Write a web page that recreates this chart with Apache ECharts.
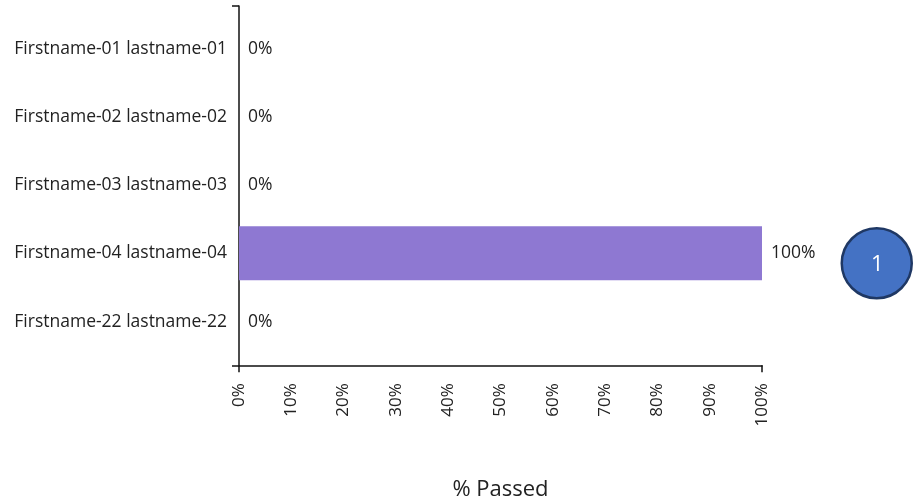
<!DOCTYPE html>
<html>
<head>
<meta charset="utf-8">
<script src="https://cdn.jsdelivr.net/npm/echarts@6/dist/echarts.min.js"></script>
<style>
html,body{margin:0;padding:0;background:#fff;}
#chart{width:913px;height:502px;}
</style>
</head>
<body>
<div id="chart"></div>
<script>
var categories = ['Firstname-01 lastname-01','Firstname-02 lastname-02','Firstname-03 lastname-03','Firstname-04 lastname-04','Firstname-22 lastname-22'];
var passed = [0, 0, 0, 100, 0];
var xTicks = [0, 10, 20, 30, 40, 50, 60, 70, 80, 90, 100];
var badgeText = '1';

var FONT = 'Open Sans';
var chart = echarts.init(document.getElementById('chart'), null, {renderer: 'canvas'});
chart.setOption({
  animation: false,
  backgroundColor: '#ffffff',
  grid: [
    {left: 239, right: 151, top: 14.4, height: 341.3, containLabel: false, outerBoundsMode: 'none'},
    {left: 239, right: 151, top: 6, height: 359.3, containLabel: false, outerBoundsMode: 'none'}
  ],
  xAxis: [{
    type: 'value', gridIndex: 0, min: 0, max: 100, interval: 10, offset: 9.6,
    name: '% Passed', nameLocation: 'middle', nameGap: 113,
    nameTextStyle: {fontFamily: FONT, fontSize: 22, color: '#222'},
    axisLine: {show: true, lineStyle: {color: '#111', width: 1.5}},
    axisTick: {show: true, customValues: [0, 100], length: 7, lineStyle: {color: '#111', width: 1.5}},
    splitLine: {show: false},
    axisLabel: {
      rotate: 90, margin: 18, fontFamily: FONT, fontSize: 17, color: '#222',
      customValues: xTicks,
      formatter: function (v) { return v + '%'; }
    }
  }, {
    type: 'value', gridIndex: 1, min: 0, max: 1, show: false
  }],
  yAxis: [{
    type: 'category', gridIndex: 0, data: categories, inverse: true,
    axisLine: {show: false}, axisTick: {show: false}, splitLine: {show: false},
    axisLabel: {margin: 12, fontFamily: FONT, fontSize: 17.5, color: '#222'}
  }, {
    type: 'value', gridIndex: 1, min: 0, max: 1,
    axisLine: {show: true, lineStyle: {color: '#111', width: 1.5}},
    axisTick: {show: true, customValues: [0, 1], length: 7, lineStyle: {color: '#111', width: 1.5}},
    axisLabel: {show: false}, splitLine: {show: false}
  }],
  series: [{
    type: 'bar', xAxisIndex: 0, yAxisIndex: 0,
    data: passed,
    barWidth: '79%',
    itemStyle: {color: '#8E78D2'},
    label: {
      show: true, position: 'right', distance: 9,
      fontFamily: FONT, fontSize: 17.5, color: '#222',
      formatter: function (p) { return p.value + '%'; }
    }
  }],
  graphic: [{
    type: 'group', right: 0, top: 227,
    children: [{
      type: 'circle', shape: {cx: 35.5, cy: 35.5, r: 35},
      style: {fill: '#4472C4', stroke: '#1F3864', lineWidth: 2.5}
    }, {
      type: 'text', x: 36, y: 37,
      style: {text: badgeText, fill: '#ffffff', font: '22px "Open Sans"', align: 'center', verticalAlign: 'middle'}
    }]
  }]
});
</script>
</body>
</html>
